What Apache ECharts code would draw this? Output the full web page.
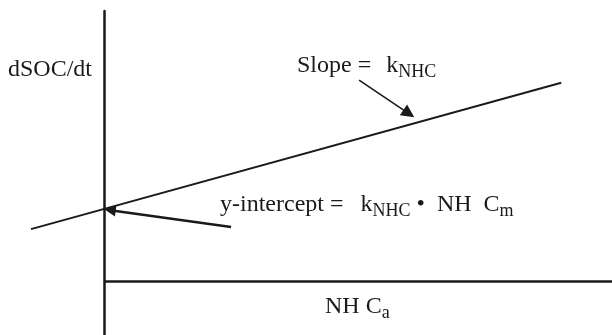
<!DOCTYPE html>
<html>
<head>
<meta charset="utf-8">
<script src="https://cdn.jsdelivr.net/npm/echarts@6/dist/echarts.min.js"></script>
<style>
html, body { margin: 0; padding: 0; background: #fff; }
#main { width: 612px; height: 335px; }
</style>
</head>
<body>
<div id="main"></div>
<script>
// schematic units: x = NH C_a, y = dSOC/dt
var xRange = [-2.05, 10];
var yRange = [-1, 5];

// fitted line (extends left of the y axis)
var fitX = [-1.44, 9.0];
var fitY = [0.96, 3.67];

// annotation arrows: start point -> head
var slopeArrow = [[5.02, 3.72], [6.00, 3.10]];
var interceptArrow = [[2.50, 1.00], [0.12, 1.31]];

var yName = 'dSOC/dt';
var xName = 'NH C';
var ink = '#1a1a1a';
var serif = '"Liberation Serif", "DejaVu Serif", serif';

var chart = echarts.init(document.getElementById('main'));

var fitData = fitX.map(function (x, i) {
    return [x, fitY[i]];
});

var rich = {
    s: { fontSize: 18, fontFamily: serif, fill: ink, padding: [12, 0, 0, 0] },
    k: { fontSize: 24, fontFamily: serif, fill: ink, padding: [0, 0, 0, 15] },
    k2: { fontSize: 24, fontFamily: serif, fill: ink, padding: [0, 0, 0, 17] }
};

function arrow(coords, width, size) {
    return {
        type: 'lines',
        coordinateSystem: 'cartesian2d',
        symbol: ['none', 'triangle'],
        symbolSize: size,
        lineStyle: { color: ink, width: width, opacity: 1 },
        data: [{ coords: coords }]
    };
}

var option = {
    animation: false,
    backgroundColor: '#fff',
    grid: {
        left: 0,
        right: 0,
        top: 11,
        bottom: 0,
        containLabel: false,
        outerBoundsMode: 'none'
    },
    xAxis: {
        type: 'value',
        min: xRange[0],
        max: xRange[1],
        axisLine: { show: false },
        axisTick: { show: false },
        axisLabel: { show: false },
        splitLine: { show: false }
    },
    yAxis: {
        type: 'value',
        min: yRange[0],
        max: yRange[1],
        axisLine: { show: true, onZero: true, lineStyle: { color: ink, width: 2.5 } },
        axisTick: { show: false },
        axisLabel: { show: false },
        splitLine: { show: false }
    },
    series: [{
            type: 'line',
            data: fitData,
            showSymbol: false,
            lineStyle: { color: ink, width: 2 },
            // horizontal axis, starting at the y axis
            markLine: {
                silent: true,
                symbol: 'none',
                label: { show: false },
                lineStyle: { color: ink, width: 2.5, type: 'solid' },
                data: [[{ coord: [0, 0] }, { coord: [xRange[1], 0] }]]
            }
        },
        arrow(slopeArrow, 1.6, [10, 13]),
        arrow(interceptArrow, 2.6, [9, 11])
    ],
    graphic: [{
            type: 'text',
            left: 8,
            top: 58,
            style: { text: yName, fontSize: 24, fontFamily: serif, fill: ink }
        },
        {
            type: 'text',
            left: 297,
            top: 54,
            style: {
                text: 'Slope ={k|k}{s|NHC}',
                fontSize: 24, fontFamily: serif, fill: ink,
                rich: rich
            }
        },
        {
            type: 'text',
            left: 220,
            top: 193,
            style: {
                text: 'y-intercept ={k2|k}{s|NHC} \u2022  NH  C{s|m}',
                fontSize: 24, fontFamily: serif, fill: ink,
                rich: rich
            }
        },
        {
            type: 'text',
            left: 325,
            top: 295,
            style: {
                text: xName + '{s|a}',
                fontSize: 24, fontFamily: serif, fill: ink,
                rich: rich
            }
        }
    ]
};

chart.setOption(option);
</script>
</body>
</html>
